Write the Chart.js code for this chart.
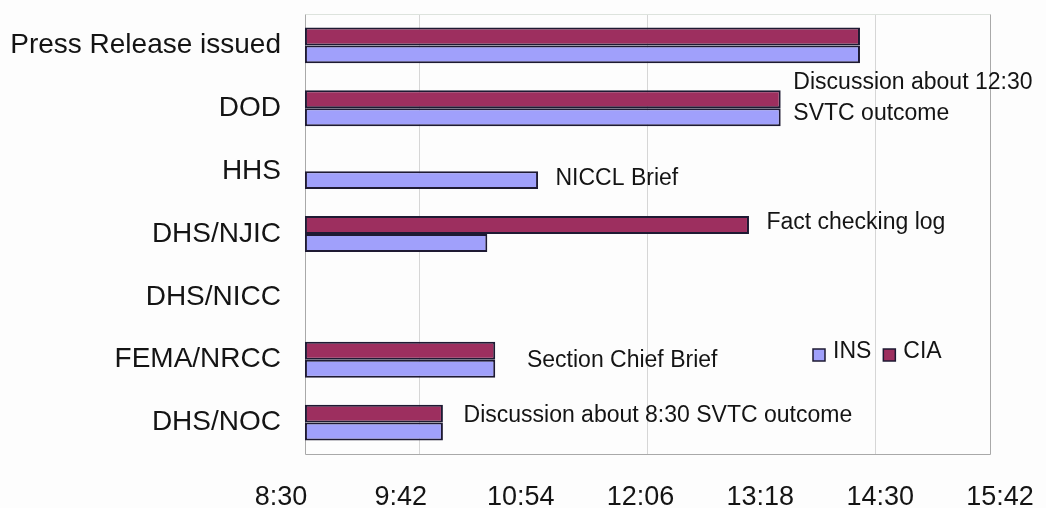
<!DOCTYPE html>
<html>
<head>
<meta charset="utf-8">
<script src="https://cdn.jsdelivr.net/npm/chart.js@4.4.1/dist/chart.umd.min.js"></script>
<style>
  html, body { margin: 0; padding: 0; background: #fdfdfd; overflow: hidden; }
  canvas { display: block; }
</style>
</head>
<body>
<canvas id="timeline" width="1046" height="508"></canvas>
<script>
// ─── DATI ─────────────────────────────────────────────────────────
const categories = [
  "Press Release issued",
  "DOD",
  "HHS",
  "DHS/NJIC",
  "DHS/NICC",
  "FEMA/NRCC",
  "DHS/NOC",
];
const startTime = "8:30";
const insEnd = ["14:20", "13:30", "10:57", "10:25", null, "10:30", "9:57"];
const ciaEnd = ["14:20", "13:30", null, "13:10", null, "10:30", "9:57"];
const tickTimes = ["8:30", "9:42", "10:54", "12:06", "13:18", "14:30", "15:42"];
const gridTimes = ["9:42", "12:06", "14:30"];

// note a lato delle barre: ora di inizio testo, riga (indice categoria)
const notes = [
  { text: ["Discussion about 12:30", "SVTC outcome"], at: "13:38", row: 0.845 },
  { text: ["NICCL Brief"], at: "11:08", row: 2.125 },
  { text: ["Fact checking log"], at: "13:21", row: 2.825 },
  { text: ["Section Chief Brief"], at: "10:50", row: 5.02 },
  { text: ["Discussion about 8:30 SVTC outcome"], at: "10:10", row: 5.895 },
];

const FONT = '"Liberation Sans", Arial, Helvetica, sans-serif';

function toMin(t) {
  const [h, m] = t.split(":").map(Number);
  return h * 60 + m;
}
function fmt(v) {
  const h = Math.floor(v / 60);
  const m = Math.round(v - h * 60);
  return h + ":" + String(m).padStart(2, "0");
}

const t0 = toMin(tickTimes[0]);
const t1 = toMin(tickTimes[tickTimes.length - 1]);
const bars = (arr) => arr.map((e) => (e ? [toMin(startTime), toMin(e)] : null));

// ─── PLUGIN: cornice, note, legenda ───────────────────────────────
const frame = {
  id: "frame",
  beforeDatasetsDraw(chart) {
    const { ctx, chartArea } = chart;
    const x = chart.scales.x;
    const l = Math.round(x.getPixelForValue(t0)) + 0.5;
    const r = Math.round(x.getPixelForValue(t1)) + 0.5;
    const t = Math.round(chartArea.top) + 0.5;
    const b = Math.round(chartArea.bottom) + 0.5;
    ctx.save();
    ctx.lineWidth = 1;
    ctx.strokeStyle = "#dde3dd";
    ctx.beginPath();
    ctx.moveTo(l, t);
    ctx.lineTo(r, t);
    ctx.stroke();
    ctx.strokeStyle = "#a9a9a9";
    ctx.beginPath();
    ctx.moveTo(l, t);
    ctx.lineTo(l, b);
    ctx.lineTo(r, b);
    ctx.lineTo(r, t);
    ctx.stroke();
    ctx.restore();
  },
};

const barNotes = {
  id: "barNotes",
  afterDatasetsDraw(chart) {
    const { ctx } = chart;
    const x = chart.scales.x;
    const y = chart.scales.y;
    ctx.save();
    ctx.font = "23px " + FONT;
    ctx.fillStyle = "#141414";
    ctx.textBaseline = "middle";
    ctx.textAlign = "left";
    notes.forEach((n) => {
      const px = x.getPixelForValue(toMin(n.at));
      const cy = y.getPixelForValue(n.row);
      n.text.forEach((line, i) => {
        ctx.fillText(line, px, cy + (i - (n.text.length - 1) / 2) * 31);
      });
    });
    ctx.restore();
  },
};

const legendBox = {
  id: "legendBox",
  afterDraw(chart) {
    const { ctx } = chart;
    let lx = 813;
    const ly = 355;
    ctx.save();
    ctx.font = "23px " + FONT;
    ctx.textBaseline = "middle";
    // ordine legenda: INS, CIA
    [1, 0].forEach((i) => {
      const ds = chart.data.datasets[i];
      ctx.fillStyle = ds.backgroundColor;
      ctx.fillRect(lx, ly - 6, 12, 12);
      ctx.strokeStyle = ds.borderColor;
      ctx.lineWidth = 1.5;
      ctx.strokeRect(lx, ly - 6, 12, 12);
      lx += 12 + 8;
      ctx.fillStyle = "#141414";
      ctx.fillText(ds.label, lx, ly - 3);
      lx += ctx.measureText(ds.label).width + 12;
    });
    ctx.restore();
  },
};

// ─── GRAFICO ──────────────────────────────────────────────────────
new Chart(document.getElementById("timeline"), {
  type: "bar",
  data: {
    labels: categories,
    datasets: [
      {
        label: "CIA",
        data: bars(ciaEnd),
        backgroundColor: "#9d2f5f",
        borderColor: "#1e1a33",
        borderWidth: 2,
        borderSkipped: false,
        categoryPercentage: 0.57,
        barPercentage: 1,
      },
      {
        label: "INS",
        data: bars(insEnd),
        backgroundColor: "#a0a0fb",
        borderColor: "#1e1a33",
        borderWidth: 2,
        borderSkipped: false,
        categoryPercentage: 0.57,
        barPercentage: 1,
      },
    ],
  },
  options: {
    indexAxis: "y",
    responsive: false,
    animation: false,
    layout: { padding: { top: 14, right: 46, bottom: 0, left: 0 } },
    plugins: {
      legend: { display: false },
      tooltip: { enabled: false },
    },
    scales: {
      x: {
        type: "linear",
        position: "bottom",
        min: t0 - 15.1,
        max: t1 + 6.3,
        grid: { color: "#d6d6d6", lineWidth: 1, drawTicks: false },
        border: { display: false },
        ticks: { display: false },
        afterBuildTicks: (scale) => {
          scale.ticks = gridTimes.map((t) => ({ value: toMin(t) }));
        },
        afterFit: (scale) => {
          scale.height = 0;
          scale.paddingLeft = 0;
          scale.paddingRight = 0;
        },
      },
      x2: {
        type: "linear",
        position: "bottom",
        min: t0,
        max: t1,
        grid: { display: false, drawTicks: false },
        border: { display: false },
        ticks: {
          stepSize: 72,
          padding: 27,
          color: "#141414",
          font: { family: FONT, size: 27 },
          maxRotation: 0,
          callback: (v) => fmt(v),
        },
        afterBuildTicks: (scale) => {
          scale.ticks = tickTimes.map((t) => ({ value: toMin(t) }));
        },
        afterFit: (scale) => {
          scale.height = 54;
          scale.paddingLeft = 0;
          scale.paddingRight = 0;
        },
      },
      y: {
        grid: { display: false, drawTicks: false },
        border: { display: false },
        ticks: {
          padding: 0,
          color: "#141414",
          font: { family: FONT, size: 28 },
        },
        afterFit: (scale) => {
          scale.width = 281;
          scale.paddingTop = 0;
          scale.paddingBottom = 0;
        },
      },
    },
  },
  plugins: [frame, barNotes, legendBox],
});
</script>
</body>
</html>
